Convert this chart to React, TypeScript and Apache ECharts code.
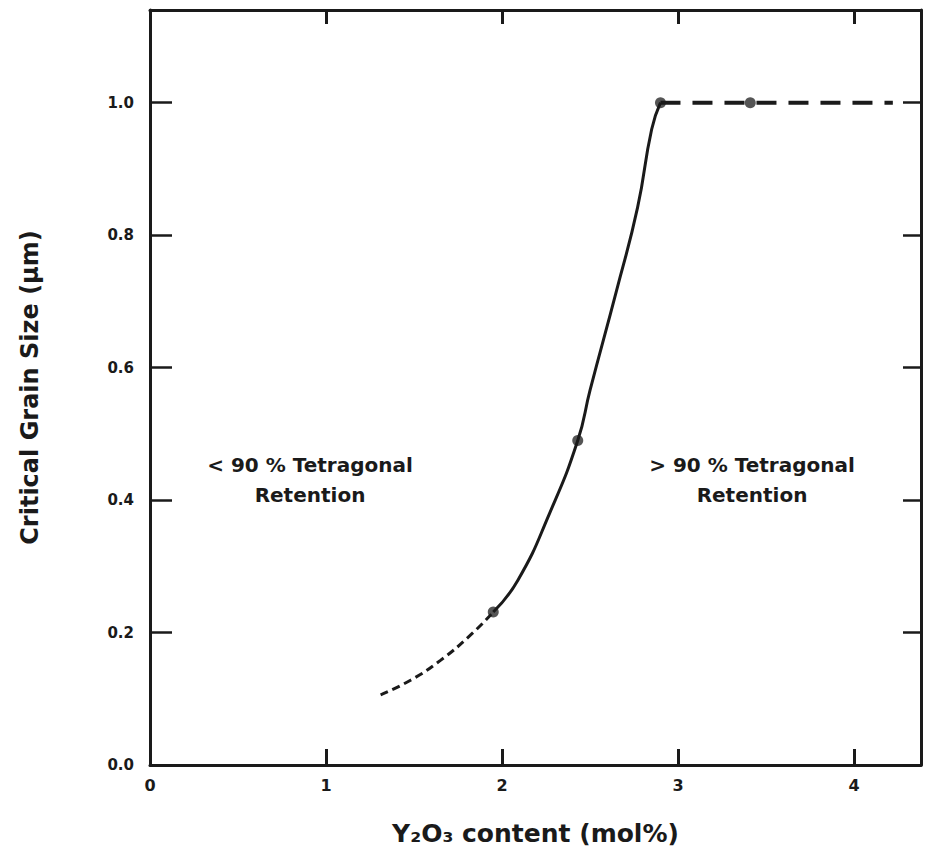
import React, { useEffect, useRef } from "react";
import * as echarts from "echarts";

// Y2O3 content (mol%) vs critical grain size (µm)
const lowDashedCurve: [number, number][] = [
  [1.31, 0.106], [1.48, 0.128], [1.65, 0.158], [1.82, 0.196], [1.95, 0.231],
];
const solidCurve: [number, number][] = [
  [1.95, 0.231], [2.09, 0.279], [2.27, 0.38], [2.43, 0.49], [2.5, 0.566],
  [2.65, 0.716], [2.77, 0.842], [2.85, 0.96], [2.9, 1.0],
];
const plateauCurve: [number, number][] = [
  [2.9, 1.0], [4.22, 1.0],
];
const measuredPoints: [number, number][] = [
  [1.95, 0.231], [2.43, 0.49], [2.9, 1.0], [3.41, 1.0],
];
const xTicks = [0, 1, 2, 3, 4];
const yTicks = [0.0, 0.2, 0.4, 0.6, 0.8, 1.0];
const regionLabels = ["< 90 % Tetragonal\nRetention", "> 90 % Tetragonal\nRetention"];

const INK = "#1a1a1a";
const FONT = "DejaVu Sans";

export default function App() {
  const ref = useRef<HTMLDivElement>(null);
  useEffect(() => {
    if (!ref.current) return;
    const chart = echarts.init(ref.current, null, { renderer: "svg" });
    const axisLine = { show: true, onZero: false, lineStyle: { color: INK, width: 3 } };
    chart.setOption({
      animation: false,
      backgroundColor: "#ffffff",
      grid: { left: 150, right: 11, top: 10, bottom: 92, containLabel: false },
      xAxis: [
        {
          type: "value",
          min: 0,
          max: 4.38,
          interval: 1,
          position: "bottom",
          axisLine,
          axisTick: { show: true, inside: true, length: 16, lineStyle: { color: INK, width: 3 } },
          axisLabel: {
            color: INK,
            fontFamily: FONT,
            fontWeight: "bold",
            fontSize: 16,
            margin: 12,
            showMaxLabel: false,
            formatter: (v: number) => (xTicks.includes(v) ? String(v) : ""),
          },
          splitLine: { show: false },
          name: "Y\u2082O\u2083 content (mol%)",
          nameLocation: "middle",
          nameGap: 56,
          nameTextStyle: { color: INK, fontFamily: FONT, fontWeight: "bold", fontSize: 25 },
        },
        {
          type: "value",
          min: 0,
          max: 4.38,
          interval: 1,
          position: "top",
          axisLine,
          axisTick: { show: true, inside: true, length: 14, lineStyle: { color: INK, width: 3 } },
          axisLabel: { show: false },
          splitLine: { show: false },
        },
      ],
      yAxis: [
        {
          type: "value",
          min: 0,
          max: 1.14,
          interval: 0.2,
          position: "left",
          axisLine,
          axisTick: { show: true, inside: true, length: 22, lineStyle: { color: INK, width: 2.5 } },
          axisLabel: {
            color: INK,
            fontFamily: FONT,
            fontWeight: "bold",
            fontSize: 15,
            margin: 16,
            showMaxLabel: false,
            formatter: (v: number) => {
              const t = yTicks.find((k) => Math.abs(k - v) < 1e-6);
              return t === undefined ? "" : t.toFixed(1);
            },
          },
          splitLine: { show: false },
          name: "Critical Grain Size (\u00b5m)",
          nameLocation: "middle",
          nameGap: 108,
          nameRotate: 90,
          nameTextStyle: { color: INK, fontFamily: FONT, fontWeight: "bold", fontSize: 24 },
        },
        {
          type: "value",
          min: 0,
          max: 1.14,
          interval: 0.2,
          position: "right",
          axisLine,
          axisTick: { show: true, inside: true, length: 18, lineStyle: { color: INK, width: 2.5 } },
          axisLabel: { show: false },
          splitLine: { show: false },
        },
      ],
      series: [
        {
          type: "line",
          data: lowDashedCurve,
          smooth: true,
          symbol: "none",
          lineStyle: { color: INK, width: 3, type: [8, 5] },
        },
        {
          type: "line",
          data: solidCurve,
          smooth: true,
          symbol: "none",
          lineStyle: { color: INK, width: 3 },
        },
        {
          type: "line",
          data: plateauCurve,
          symbol: "none",
          lineStyle: { color: INK, width: 4, type: [20, 12] },
        },
        {
          type: "scatter",
          data: measuredPoints,
          symbol: "circle",
          symbolSize: 11,
          itemStyle: { color: "#2a2a2a" },
        },
      ],
      graphic: [
        {
          type: "text",
          x: 310,
          y: 450,
          style: {
            text: regionLabels[0],
            fill: INK,
            font: `bold 20px "${FONT}"`,
            align: "center",
            verticalAlign: "top",
            lineHeight: 30,
          },
        },
        {
          type: "text",
          x: 752,
          y: 450,
          style: {
            text: regionLabels[1],
            fill: INK,
            font: `bold 20px "${FONT}"`,
            align: "center",
            verticalAlign: "top",
            lineHeight: 30,
          },
        },
      ],
    });
    return () => chart.dispose();
  }, []);
  return (
    <div
      ref={ref}
      style={{ position: "fixed", left: 0, top: 0, width: 932, height: 857, background: "#fff" }}
    />
  );
}
